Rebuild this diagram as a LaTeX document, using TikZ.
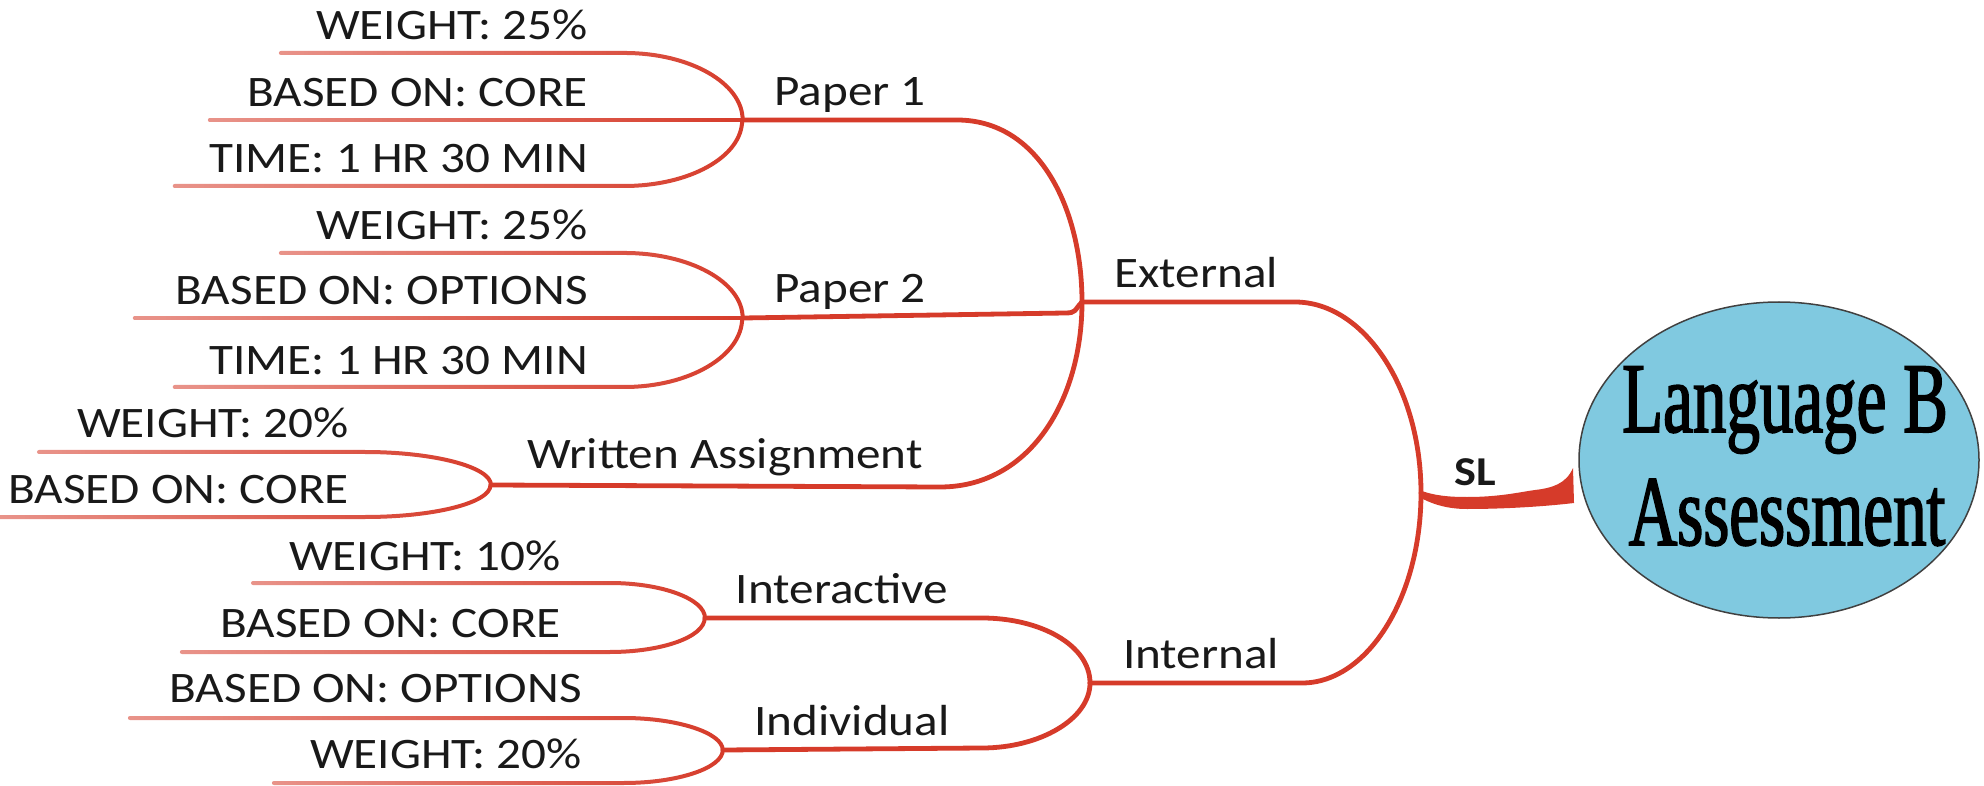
\documentclass[tikz,border=0pt]{standalone}
\usepackage{fontspec}
\setmainfont[FakeStretch=1.13]{Carlito}
\newfontfamily\titlefont[FakeStretch=0.67,FakeBold=1.6]{Liberation Serif}
\usetikzlibrary{shapes.geometric,fadings}
\definecolor{lred}{HTML}{D63B2A}
\definecolor{lblue}{HTML}{80C9E0}
\tikzfading[name=leaffade, left color=transparent!45, right color=transparent!0]
\begin{document}
\begin{tikzpicture}[x=1pt,y=-1pt,
  branch/.style={draw=lred, line width=4.8pt, line cap=round},
  leafline/.style={draw=lred, line width=4pt, line cap=round,
    path fading=leaffade},
  leaftext/.style={anchor=base east, inner sep=0pt, text=black!90,
    font=\fontsize{43.5}{50}\selectfont},
  tag/.style={anchor=base, inner sep=0pt, text=black!90,
    font=\fontsize{43.5}{50}\selectfont},
  title/.style={anchor=base, inner sep=0pt, text=black,
    font=\titlefont\fontsize{100}{110}\selectfont},
]
\useasboundingbox (0,0) rectangle (1984,786);

% junction points of the map
\coordinate (J1) at (743,120);
\coordinate (J2) at (743,318);
\coordinate (JW) at (491,485);
\coordinate (JE) at (1082,302);
\coordinate (JA) at (705,618);
\coordinate (JB) at (723,750);
\coordinate (JI) at (1090,683);
\coordinate (JS) at (1421,493);

% free ends of the leaf lines
\coordinate (p1a) at (281,53);
\coordinate (p1b) at (210,120);
\coordinate (p1c) at (175,186);
\coordinate (p2a) at (281,253);
\coordinate (p2b) at (135,318);
\coordinate (p2c) at (175,387);
\coordinate (wa) at (39,452);
\coordinate (wb) at (0,517);
\coordinate (ia) at (253,583);
\coordinate (ib) at (182,652);
\coordinate (da) at (130,718);
\coordinate (db) at (274,783);

% central topic and its tapered link
\fill[lred] (1419,490) .. controls (1435,496) and (1450,497) .. (1467,497)
  .. controls (1500,497) and (1520,492) .. (1535,490)
  .. controls (1552,488) and (1566,484) .. (1573,468)
  -- (1574,503) .. controls (1540,507) and (1500,509) .. (1467,509)
  .. controls (1445,509) and (1430,503) .. (1419,497) -- cycle;
\node[ellipse, draw=black!75, line width=1.5pt, fill=lblue,
  minimum width=400, minimum height=316, inner sep=0pt] (LB) at (1779,460) {};
\node[title] (t1) at (1785,432) {Language B};
\node[title] (t2) at (1787,545) {Assessment};
\node[tag, font=\bfseries\fontsize{41}{48}\selectfont] (sl) at (1475,485) {SL};

% Paper 1
\draw[leafline] (J1) .. controls +(0,-37) and +(65,0) .. ++(-118,-67) -- (p1a);
\draw[leafline] (J1) -- (p1b);
\draw[leafline] (J1) .. controls +(0,37) and +(65,0) .. ++(-118,66) -- (p1c);
\node[leaftext] (p1ta) at (588,40) {WEIGHT: 25\%};
\node[leaftext] (p1tb) at (588,107) {BASED ON: CORE};
\node[leaftext] (p1tc) at (588,173) {TIME: 1 HR 30 MIN};
\node[tag] (paper1) at (850,106) {Paper 1};

% Paper 2
\draw[leafline] (J2) .. controls +(0,-36) and +(65,0) .. ++(-118,-65) -- (p2a);
\draw[leafline] (J2) -- (p2b);
\draw[leafline] (J2) .. controls +(0,38) and +(65,0) .. ++(-118,69) -- (p2c);
\node[leaftext] (p2ta) at (588,240) {WEIGHT: 25\%};
\node[leaftext] (p2tb) at (588,305) {BASED ON: OPTIONS};
\node[leaftext] (p2tc) at (588,374) {TIME: 1 HR 30 MIN};
\node[tag] (paper2) at (850,303) {Paper 2};

% Written Assignment
\draw[leafline] (JW) .. controls +(0,-18) and +(69,0) .. ++(-126,-33) -- (wa);
\draw[leafline] (JW) .. controls +(0,18) and +(69,0) .. ++(-126,32) -- (wb);
\node[leaftext] (wta) at (349,437) {WEIGHT: 20\%};
\node[leaftext] (wtb) at (349,503) {BASED ON: CORE};
\node[tag] (written) at (725,468) {Written Assignment};

% Interactive
\draw[leafline] (JA) .. controls +(0,-19) and +(52,0) .. ++(-95,-35) -- (ia);
\draw[leafline] (JA) .. controls +(0,19) and +(52,0) .. ++(-95,34) -- (ib);
\node[leaftext] (ita) at (561,570) {WEIGHT: 10\%};
\node[leaftext] (itb) at (561,637) {BASED ON: CORE};
\node[tag] (inter) at (842,603) {Interactive};

% Individual
\draw[leafline] (JB) .. controls +(0,-17) and +(54,0) .. ++(-99,-32) -- (da);
\draw[leafline] (JB) .. controls +(0,18) and +(54,0) .. ++(-99,33) -- (db);
\node[leaftext] (dta) at (582,702) {BASED ON: OPTIONS};
\node[leaftext] (dtb) at (582,768) {WEIGHT: 20\%};
\node[tag] (indiv) at (852,735) {Individual};

% External branch
\draw[branch] (J1) -- ++(214,0) .. controls +(83,0) and +(0,-92) .. (JE);
\draw[branch] (J2) -- ++(322,-5) .. controls +(12,0) and +(-8,8) .. (JE);
\draw[branch] (JW) -- ++(449,2) .. controls +(90,0) and +(0,98) .. (JE);
\node[tag] (ext) at (1196,288) {External};

% Internal branch
\draw[branch] (JA) -- ++(277,0) .. controls +(58,0) and +(0,-38) .. (JI);
\draw[branch] (JB) -- ++(259,-2) .. controls +(58,0) and +(0,36) .. (JI);
\node[tag] (int) at (1201,668) {Internal};

% both branches meet at SL
\draw[branch] (JE) -- ++(213,0) .. controls +(69,0) and +(0,-105) .. (JS);
\draw[branch] (JI) -- ++(212,0) .. controls +(65,0) and +(0,105) .. (JS);
\end{tikzpicture}
\end{document}
